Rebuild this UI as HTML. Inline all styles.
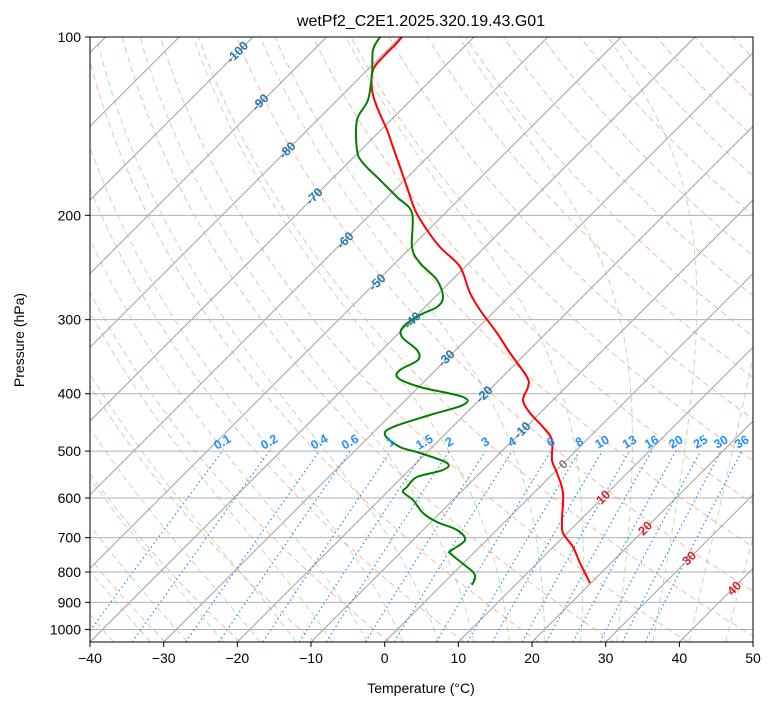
<!DOCTYPE html>
<html><head><meta charset="utf-8"><style>
body{margin:0;background:#fff;}
svg{display:block;font-family:"Liberation Sans","DejaVu Sans",sans-serif;}
</style></head><body>
<svg id="s" width="775" height="708" xmlns="http://www.w3.org/2000/svg">
<defs><clipPath id="c"><rect x="90" y="37" width="663" height="605"/></clipPath></defs>
<rect width="775" height="708" fill="#fff"/>
<g id="bg" clip-path="url(#c)"></g>
<g id="fg" clip-path="url(#c)"></g>
<g id="lab"></g>
<rect x="90" y="37" width="663" height="605" fill="none" stroke="#000" stroke-width="1"/>
<g id="ax" font-size="14"></g>
<text x="421" y="26" font-size="16" text-anchor="middle">wetPf2_C2E1.2025.320.19.43.G01</text>
<text x="421" y="693" font-size="14" text-anchor="middle">Temperature (°C)</text>
<text transform="translate(24,340) rotate(-90)" font-size="14" text-anchor="middle">Pressure (hPa)</text>
</svg>
<script>
const NS="http://www.w3.org/2000/svg";
const K=605/Math.log10(10.5);
function Y(p){return 37+(Math.log10(p)-2)*K;}
function X(T,p){return 90+(T+40)*7.367+(642-Y(p));}
const bg=document.getElementById('bg'),fg=document.getElementById('fg'),ax=document.getElementById('ax'),lab=document.getElementById('lab');
function el(par,tag,attrs,txt){const e=document.createElementNS(NS,tag);for(const k in attrs)e.setAttribute(k,attrs[k]);if(txt!==undefined)e.textContent=txt;par.appendChild(e);return e;}
function pl(pts,attrs){attrs.points=pts.map(q=>q[0].toFixed(1)+','+q[1].toFixed(1)).join(' ');attrs.fill='none';el(bg,'polyline',attrs);}
function smooth(pts){let d='M'+pts[0][0]+','+pts[0][1];for(let i=0;i<pts.length-1;i++){const p0=pts[i-1]||pts[i],p1=pts[i],p2=pts[i+1],p3=pts[i+2]||p2;
 const c1=[p1[0]+(p2[0]-p0[0])/6,p1[1]+(p2[1]-p0[1])/6],c2=[p2[0]-(p3[0]-p1[0])/6,p2[1]-(p3[1]-p1[1])/6];
 d+=` C${c1[0].toFixed(1)},${c1[1].toFixed(1)} ${c2[0].toFixed(1)},${c2[1].toFixed(1)} ${p2[0]},${p2[1]}`;}return d;}
function parse(s){return s.trim().split(/\s+/).map(q=>q.split(',').map(Number));}
const ps=[];for(let p=1050;p>=100;p-=5)ps.push(p);
for(let th=200;th<=520;th+=10){pl(ps.map(p=>{const T=th*Math.pow(p/1000,0.2857)-273.15;return [X(T,p),Y(p)];}),{stroke:th<=220?'#d8b88a':'#f4a582','stroke-width':th<=220?1.6:1,'stroke-dasharray':'6,4',opacity:0.75});}
function moist(t0){const Rd=287.04,Cp=1005.7,L=2.501e6,eps=0.622;
 function dT(T,p){const es=6.112*Math.exp(17.67*(T-273.15)/(T-29.65));const rs=eps*es/(p-es);return (Rd*T+L*rs)/(p*(Cp+L*L*rs*eps/(Rd*T*T)));}
 let out=[],T=t0+273.15,p;
 let Td=T;for(let q=1000;q<1050;q+=1){Td+=dT(Td,q);}
 T=Td;for(p=1050;p>=100;p-=1){if(p%5==0)out.push([X(T-273.15,p),Y(p)]);T-=dT(T,p);}
 return out;}
for(let t=-40;t<=45;t+=5){pl(moist(t),{stroke:'#8cc68c','stroke-width':1,'stroke-dasharray':'6,4',opacity:0.6});}
for(let T=-130;T<=50;T+=10){pl([[X(T,1050),Y(1050)],[X(T,100),Y(100)]],{stroke:'#a0a0a0','stroke-width':1});}
for(let p=100;p<=1000;p+=100){el(bg,'line',{x1:90,x2:753,y1:Y(p),y2:Y(p),stroke:'#b0b0b0','stroke-width':1});}
const ws=[0.1,0.2,0.4,0.6,1,1.5,2,3,4,6,8,10,13,16,20,25,30,36];
function tdw(w,p){const e=p*w/1000/(0.622+w/1000);const l=Math.log(e/6.112);return 243.5*l/(17.67-l);}
for(const w of ws){const pts=[];for(let p=1050;p>=500;p-=10)pts.push([X(tdw(w,p),p),Y(p)]);pl(pts,{stroke:'#1e90ff','stroke-width':1.2,'stroke-dasharray':'1.5,3'});
 const x=X(tdw(w,500),500);el(lab,'text',{x:x,y:446,'font-size':12.5,'font-weight':'bold',fill:'#1e90ff','text-anchor':'middle',transform:`rotate(-30 ${x} 442)`},String(w));}
const T_='402,37 395,45 383,57 373,70 372,90 377,107 387,130 393,147 400,167 407,187 415,210 427,230 440,247 457,263 463,273 470,293 480,310 497,333 510,353 527,377 528,387 523,400 530,413 543,427 552,440 552,460 557,473 563,493 562,520 563,533 573,547 580,563 590,583';
const D_='380,37 373,50 372,73 368,100 357,120 357,150 363,163 380,180 397,197 412,213 412,247 420,263 437,280 443,297 437,307 420,315 403,327 402,337 417,350 418,360 400,370 398,378 420,387 463,397 463,405 430,415 393,427 385,435 400,447 420,453 447,463 443,470 417,477 407,487 403,492 413,500 423,513 437,522 457,530 465,540 452,550 450,553 462,563 473,572 475,578 472,585';
el(fg,'path',{d:smooth(parse(T_)),fill:'none',stroke:'#ff0000','stroke-width':2});
el(fg,'path',{d:smooth(parse(D_)),fill:'none',stroke:'#008000','stroke-width':2});
const il=[[-100,237,52],[-90,260,102],[-80,287,150],[-70,314,196],[-60,345,240],[-50,377,282],[-40,412,320],[-30,446,358],[-20,484,394],[-10,522,430],[0,563,464],[10,603,497],[20,645,528],[30,689,558],[40,734,588]];
for(const [t,x,y] of il){const c=t<0?'#1f77b4':(t==0?'#808080':'#d62728');
 el(lab,'text',{x:x,y:y+4.5,'font-size':12.5,'font-weight':'bold',fill:c,'text-anchor':'middle',transform:`rotate(-45 ${x} ${y})`},String(t));}
for(let T=-40;T<=50;T+=10){const x=90+(T+40)*7.367;el(ax,'line',{x1:x,x2:x,y1:642,y2:647,stroke:'#000'});el(ax,'text',{x:x,y:663,'text-anchor':'middle'},T<0?'\u2212'+(-T):String(T));}
for(let p=100;p<=1000;p+=100){const y=Y(p);el(ax,'line',{x1:85,x2:90,y1:y,y2:y,stroke:'#000'});el(ax,'text',{x:81,y:y+5,'text-anchor':'end'},String(p));}
</script>
</body></html>
